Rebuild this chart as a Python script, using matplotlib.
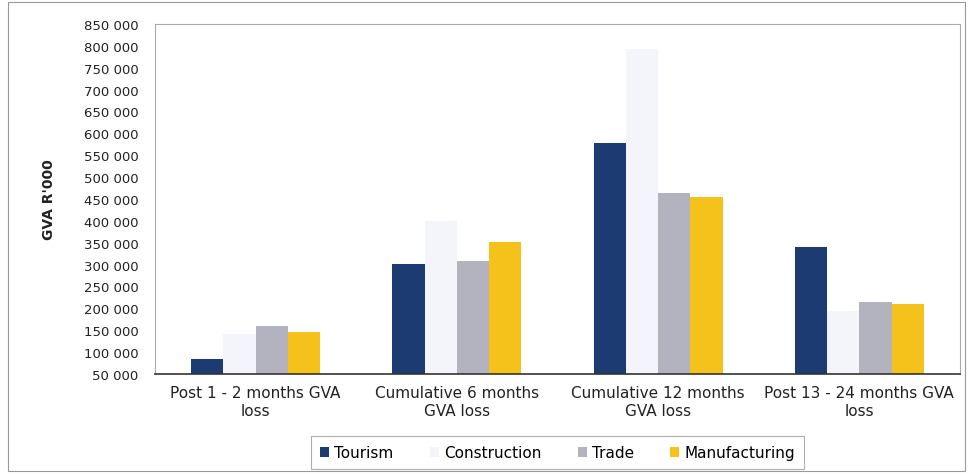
import numpy as np
import matplotlib
matplotlib.use("Agg")
import matplotlib.pyplot as plt
from matplotlib.patches import Rectangle
from matplotlib.ticker import FuncFormatter

categories = ["Post 1 - 2 months GVA\nloss", "Cumulative 6 months\nGVA loss",
              "Cumulative 12 months\nGVA loss", "Post 13 - 24 months GVA\nloss"]
series = ["Tourism", "Construction", "Trade", "Manufacturing"]
tourism = [84000, 301000, 578000, 340000]
construction = [141000, 400000, 793000, 194000]
trade = [160000, 308000, 464000, 215000]
manufacturing = [146000, 352000, 455000, 210000]
colors = ["#1d3b73", "#f4f4fb", "#b3b3c0", "#f5c21b"]

plt.rcParams["font.family"] = ["DejaVu Sans"]

fig = plt.figure(figsize=(9.71, 4.77), dpi=100)
ax = fig.add_axes([155 / 971, 1 - 375 / 477, 805 / 971, 350 / 477])

x = np.arange(len(categories))
w = 0.16
for i, (vals, name) in enumerate(zip([tourism, construction, trade, manufacturing], series)):
    ax.bar(x + (i - 1.5) * w, vals, width=w, color=colors[i], label=name, zorder=2)

ax.set_xlim(-0.5, len(categories) - 0.5)
ax.set_ylim(50000, 850000)
ax.set_yticks(np.arange(50000, 850001, 50000))
ax.yaxis.set_major_formatter(FuncFormatter(lambda v, p: f"{int(v):,}".replace(",", " ")))
ax.set_xticks(x)
ax.set_xticklabels(categories, fontsize=11, color="#222222", linespacing=1.2)
ax.tick_params(axis="y", length=0, labelsize=9.5, labelcolor="#222222", pad=12)
ax.tick_params(axis="x", length=0, pad=8)
for s in ["top", "right", "left"]:
    ax.spines[s].set_color("#aaaaaa")
    ax.spines[s].set_linewidth(0.8)
ax.spines["bottom"].set_color("#333333")
ax.spines["bottom"].set_linewidth(1.2)

ax.set_ylabel("GVA R'000", fontsize=10, fontweight="bold", labelpad=20, color="#222222")

leg = ax.legend(loc="upper center", bbox_to_anchor=(0.5, -0.155), ncol=4, frameon=True,
                fancybox=False, edgecolor="#999999", fontsize=11, handlelength=0.6,
                handleheight=0.6, handletextpad=0.3, columnspacing=2.4,
                borderpad=0.6)
leg.get_frame().set_linewidth(0.8)

fig.patches.append(Rectangle((8 / 971, 1 - 472 / 477), 957 / 971, 469 / 477,
                             transform=fig.transFigure, fill=False,
                             edgecolor="#999999", linewidth=0.8))

fig.savefig("out.png", dpi=100)
plt.close(fig)
